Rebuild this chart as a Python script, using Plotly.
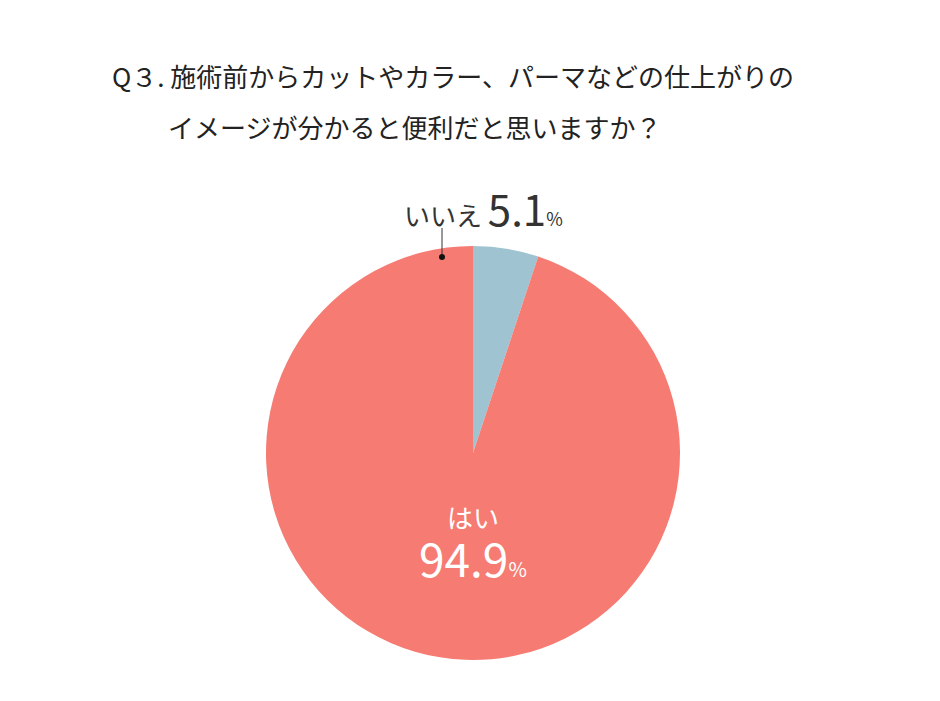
import plotly.graph_objects as go

labels = ["いいえ", "はい"]
values = [5.1, 94.9]
colors = ["#9fc3d1", "#f67b72"]
title_lines = ["Q３. 施術前からカットやカラー、パーマなどの仕上がりの", "イメージが分かると便利だと思いますか？"]

W, H = 940, 701
OFF = 8
def px(x): return (x - OFF) / W
def py(y): return 1 - (y - OFF) / H

font = "Noto Sans CJK JP"
fig = go.Figure(go.Pie(
    labels=labels, values=values, sort=False, direction="counterclockwise", rotation=0,
    marker=dict(colors=colors, line=dict(width=0)), textinfo="none", hoverinfo="label+percent",
    domain=dict(x=[px(266), px(680)], y=[py(660), py(246)]), showlegend=False))

ann = [
    dict(x=px(110), y=py(76), text=title_lines[0], xanchor="left", font=dict(size=26, color="#222")),
    dict(x=px(166), y=py(127), text=title_lines[1], xanchor="left", font=dict(size=26, color="#222")),
    dict(x=px(402), y=py(208), xanchor="left",
         text=f"{labels[0]} <span style='font-size:42px'>{values[0]}</span><span style='font-size:18px'>%</span>",
         font=dict(size=26, color="#333")),
    dict(x=px(473), y=py(516), text=labels[1], font=dict(size=26, color="white")),
    dict(x=px(473), y=py(557),
         text=f"<span style='font-size:46px'>{values[1]}</span><span style='font-size:20px'>%</span>",
         font=dict(size=46, color="white")),
]
for a in ann:
    a.update(xref="paper", yref="paper", showarrow=False, yanchor="middle", font_family=font)

fig.update_layout(
    width=W, height=H, margin=dict(l=0, r=0, t=0, b=0), paper_bgcolor="white",
    annotations=ann,
    shapes=[
        dict(type="line", xref="paper", yref="paper", x0=px(442), x1=px(442), y0=py(228), y1=py(257),
             line=dict(color="#333", width=1)),
        dict(type="circle", xref="paper", yref="paper", x0=px(439), x1=px(445), y0=py(254), y1=py(260),
             fillcolor="#111", line=dict(width=0)),
    ])
fig.write_html("out.html")
